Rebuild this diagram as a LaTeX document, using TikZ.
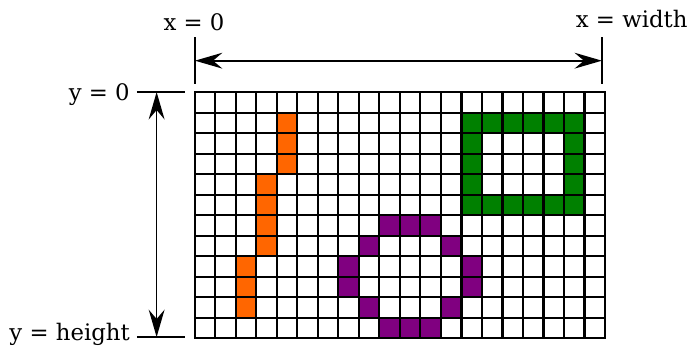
\documentclass[tikz,border=0pt]{standalone}
\usepackage{fontspec}
\setmainfont{DejaVu Serif}
\usepackage{tikz}
\usetikzlibrary{arrows.meta}
\definecolor{pixorange}{RGB}{255, 102, 0}
\definecolor{pixgreen}{RGB}{0, 128, 0}
\definecolor{pixpurple}{RGB}{128, 0, 128}

\begin{document}
\begin{tikzpicture}[
    x = 0.5cm, y = 0.5cm,
    pix/.style = {draw=none},
    gridline/.style = {line width=1.4pt, line cap=rect},
    tick/.style = {line width=1pt},
    dim/.style = {{Stealth[length=19pt, width=11pt, inset=6.5pt]}-{Stealth[length=19pt, width=11pt, inset=6.5pt]},
                  line width=1.2pt},
    lbl/.style = {font=\fontsize{15.8}{18}\selectfont, inner sep=0pt}
  ]
    \useasboundingbox (-9.51, 4.49) rectangle (24.0, -12.44);

    % coloured pixels
    \foreach \c/\r in {4/1, 4/2, 4/3, 3/4, 3/5, 3/6, 3/7, 2/8, 2/9, 2/10}
      \fill[pix, pixorange] (\c, -\r) rectangle ++(1, -1);
    \foreach \c/\r in {9/6, 10/6, 11/6, 8/7, 12/7, 7/8, 13/8, 7/9, 13/9,
                       8/10, 12/10, 9/11, 10/11, 11/11}
      \fill[pix, pixpurple] (\c, -\r) rectangle ++(1, -1);
    \foreach \c in {13, ..., 18} {
      \fill[pix, pixgreen] (\c, -1) rectangle ++(1, -1);
      \fill[pix, pixgreen] (\c, -5) rectangle ++(1, -1);
    }
    \foreach \r in {2, 3, 4} {
      \fill[pix, pixgreen] (13, -\r) rectangle ++(1, -1);
      \fill[pix, pixgreen] (18, -\r) rectangle ++(1, -1);
    }

    \draw[gridline, step=1] (0, 0) grid (20, -12);

    % tick marks
    \coordinate (x0top) at (0, 2.68);
    \coordinate (x0bot) at (0, 0.39);
    \coordinate (xwtop) at (19.85, 2.68);
    \coordinate (xwbot) at (19.85, 0.39);
    \coordinate (y0out) at (-2.83, 0);
    \coordinate (y0in)  at (-0.49, 0);
    \coordinate (yhout) at (-2.83, -11.95);
    \coordinate (yhin)  at (-0.49, -11.95);
    \draw[tick] (x0top) -- (x0bot);
    \draw[tick] (xwtop) -- (xwbot);
    \draw[tick] (y0out) -- (y0in);
    \draw[tick] (yhout) -- (yhin);

    % dimension arrows
    \coordinate (wleft)  at (0, 1.53);
    \coordinate (wright) at (19.85, 1.53);
    \coordinate (htop)   at (-1.87, 0);
    \coordinate (hbot)   at (-1.87, -11.95);
    \draw[dim] (wleft) -- (wright);
    \draw[dim] (htop) -- (hbot);

    % labels
    \node[lbl, anchor=base] (xzero) at (-0.05, 3.02) {x = 0};
    \node[lbl, anchor=base] (xwidth) at (21.3, 3.17) {x = width};
    \node[lbl, anchor=base east] (yzero) at (-3.17, -0.39) {y = 0};
    \node[lbl, anchor=base east] (yheight) at (-3.17, -12.12) {y = height};
  \end{tikzpicture}
\end{document}
